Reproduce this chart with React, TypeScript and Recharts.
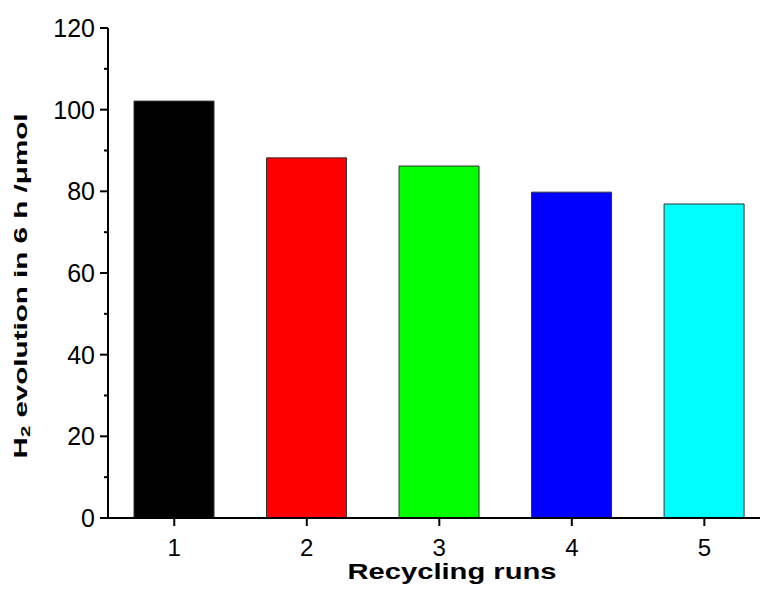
import React from 'react'
import {
  BarChart,
  Bar,
  Cell,
  XAxis,
  YAxis,
  Label,
} from 'recharts'

const runs = [1, 2, 3, 4, 5]
const h2Values = [102.1, 88.2, 86.2, 79.8, 76.9]
const barColors = ['#000000', '#ff0000', '#00ff00', '#0000ff', '#00ffff']
const yTicks = [0, 10, 20, 30, 40, 50, 60, 70, 80, 90, 100, 110, 120]

const data = runs.map((run, i) => ({ run, value: h2Values[i] }))

const FONT = '"Liberation Sans", Arial, sans-serif'
const AXIS_X = 100
const PLOT_BOTTOM = 510

function YTick(props: any) {
  const { y, payload } = props
  const v = payload.value
  const major = v % 20 === 0
  return (
    <g>
      <line x1={AXIS_X} x2={AXIS_X - (major ? 8 : 4)} y1={y} y2={y} stroke="#000" strokeWidth={2} />
      {major && (
        <text x={AXIS_X - 13} y={y} dy="0.36em" textAnchor="end" fontSize={25} fill="#000" fontFamily={FONT}>
          {v}
        </text>
      )}
    </g>
  )
}

function XTick(props: any) {
  const { x, payload } = props
  return (
    <text x={x} y={PLOT_BOTTOM + 38} textAnchor="middle" fontSize={24} fill="#000" fontFamily={FONT}>
      {payload.value}
    </text>
  )
}

export default function App() {
  return (
    <div style={{ position: 'fixed', left: 0, top: 0, width: 760, height: 592, overflow: 'hidden', background: '#fff' }}>
      <div style={{ position: 'absolute', left: 8, top: 8 }}>
        <BarChart
          width={752}
          height={584}
          data={data}
          margin={{ top: 20, right: 0, left: 0, bottom: 0 }}
        >
          {/* right side of the frame falls outside the picture, so x domain stops short */}
          <XAxis
            dataKey="run"
            type="number"
            domain={[0.5, 5.42]}
            ticks={runs}
            allowDataOverflow
            height={74}
            tick={<XTick />}
            tickSize={8}
            tickLine={{ stroke: '#000', strokeWidth: 2 }}
            axisLine={{ stroke: '#000', strokeWidth: 2 }}
            interval={0}
          >
            <Label
              content={() => (
                <text
                  x={444}
                  y={571}
                  textAnchor="middle"
                  fontSize={22}
                  fontWeight="bold"
                  fill="#000"
                  fontFamily={FONT}
                  textLength={209}
                  lengthAdjust="spacingAndGlyphs"
                >
                  Recycling runs
                </text>
              )}
            />
          </XAxis>
          <XAxis
            xAxisId="top"
            orientation="top"
            dataKey="run"
            type="number"
            domain={[0.5, 5.42]}
            height={0}
            tick={false}
            tickLine={false}
            axisLine={{ stroke: '#000', strokeWidth: 2 }}
          />
          <YAxis
            width={100}
            domain={[0, 120]}
            ticks={yTicks}
            interval={0}
            tick={<YTick />}
            tickLine={false}
            axisLine={{ stroke: '#000', strokeWidth: 2 }}
          >
            <Label
              content={() => (
                <text
                  x={19}
                  y={278}
                  transform="rotate(-90 19 278)"
                  textAnchor="middle"
                  fontSize={19}
                  fontWeight="bold"
                  fill="#000"
                  fontFamily={FONT}
                  textLength={345}
                  lengthAdjust="spacingAndGlyphs"
                >
                  H<tspan fontSize={13} dy={3}>2</tspan>
                  <tspan dy={-3}> evolution in 6 h /μmol</tspan>
                </text>
              )}
            />
          </YAxis>
          <Bar dataKey="value" barSize={80} stroke="#333" strokeWidth={1} isAnimationActive={false}>
            {data.map((d, i) => (
              <Cell key={d.run} fill={barColors[i]} />
            ))}
          </Bar>
        </BarChart>
      </div>
    </div>
  )
}
